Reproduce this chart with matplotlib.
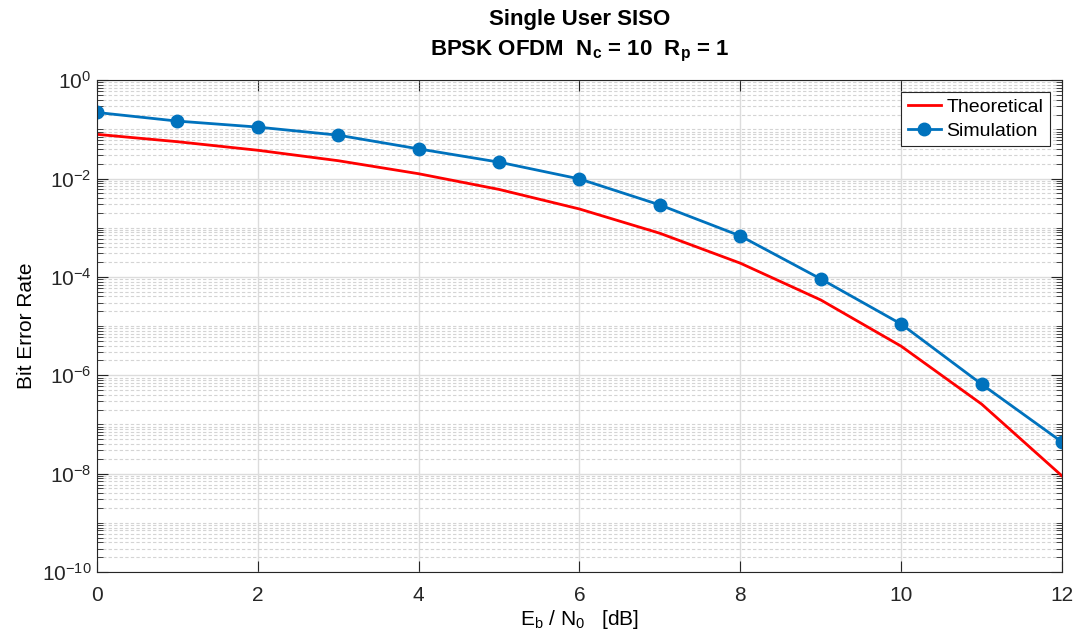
import matplotlib.pyplot as plt
from matplotlib.ticker import LogLocator, NullFormatter, FixedLocator

plt.rcParams['font.family'] = ['Liberation Sans', 'DejaVu Sans']
plt.rcParams['mathtext.fontset'] = 'custom'
plt.rcParams['mathtext.rm'] = 'Liberation Sans'
plt.rcParams['mathtext.it'] = 'Liberation Sans'
plt.rcParams['mathtext.bf'] = 'Liberation Sans:bold'

# Data
ebn0_db = [0, 1, 2, 3, 4, 5, 6, 7, 8, 9, 10, 11, 12]
ber_theory = [7.9e-2, 5.6e-2, 3.75e-2, 2.3e-2, 1.25e-2, 6.0e-3, 2.4e-3,
              7.7e-4, 1.9e-4, 3.4e-5, 3.9e-6, 2.6e-7, 9.0e-9]
ber_sim = [2.2e-1, 1.47e-1, 1.11e-1, 7.6e-2, 4.0e-2, 2.15e-2, 9.8e-3,
           2.9e-3, 6.8e-4, 9.1e-5, 1.1e-5, 6.6e-7, 4.4e-8]
ytick_vals = [1e-10, 1e-8, 1e-6, 1e-4, 1e-2, 1]
ytick_labels = ['10$^{\\mathdefault{-10}}$', '10$^{\\mathdefault{-8}}$',
                '10$^{\\mathdefault{-6}}$', '10$^{\\mathdefault{-4}}$',
                '10$^{\\mathdefault{-2}}$', '10$^{\\mathdefault{0}}$']

fig = plt.figure(figsize=(10.8, 6.41), dpi=100)
ax = fig.add_axes([0.0898, 0.1076, 0.8935, 0.7674])

ax.semilogy(ebn0_db, ber_theory, color='#ff0000', lw=2, label='Theoretical')
ax.semilogy(ebn0_db, ber_sim, color='#0072bd', lw=2, marker='o', ms=9,
            label='Simulation')

ax.set_xlim(0, 12)
ax.set_ylim(1e-10, 1)
ax.set_xticks(range(0, 13, 2))
ax.yaxis.set_major_locator(FixedLocator(ytick_vals))
ax.yaxis.set_minor_locator(LogLocator(base=10, subs=range(1, 10), numticks=30))
ax.yaxis.set_minor_formatter(NullFormatter())
ax.set_yticklabels(ytick_labels)

ax.grid(True, which='major', color='#dcdcdc', lw=1, ls='-')
ax.grid(True, which='minor', axis='y', color='#d4d4d4', lw=0.8, ls=(0, (3, 2)))
ax.tick_params(which='both', direction='in', top=True, right=True,
               labelsize=15, colors='#262626')
ax.tick_params(which='major', length=8)
ax.tick_params(axis='x', which='major', pad=10)
ax.tick_params(axis='y', which='major', pad=4)
ax.tick_params(which='minor', length=4)
for s in ax.spines.values():
    s.set_color('#262626')

ax.set_title('Single User SISO\n' + r'BPSK OFDM  $\mathbf{N_c}$ = 10  $\mathbf{R_p}$ = 1',
             fontsize=16, fontweight='bold', color='black', pad=18,
             linespacing=1.5)
ax.set_xlabel(r'$\mathregular{E_b}$ / $\mathregular{N_0}$   [dB]', fontsize=15, labelpad=2)
ax.set_ylabel('Bit Error Rate', fontsize=15, labelpad=4)

leg = ax.legend(loc='upper right', fontsize=14, fancybox=False, framealpha=1,
                edgecolor='#262626', handlelength=1.7, borderpad=0.35,
                labelspacing=0.3, borderaxespad=0.6, handletextpad=0.3)
leg.get_frame().set_linewidth(0.8)

fig.savefig('out.png', dpi=100)
